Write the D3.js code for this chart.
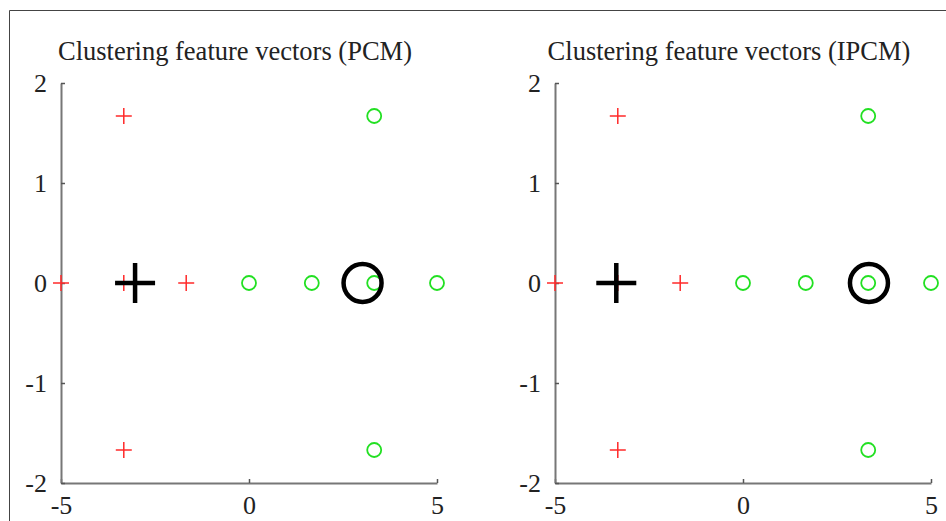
<!DOCTYPE html>
<html lang="en">
<head>
<meta charset="UTF-8">
<title>Clustering feature vectors</title>
<script src="https://d3js.org/d3.v7.min.js"></script>
<style>
  body { margin: 0; background: #fff; }
  text { font-family: "Liberation Serif", "Times New Roman", serif; fill: #222; }
</style>
</head>
<body>
<div id="chart"></div>
<script>
// feature vectors of the two clusters (same in both panels)
var redX = [-5, -3.33, -1.67, -3.33, -3.33];
var redY = [0, 0, 0, 1.67, -1.67];
var greenX = [0, 1.67, 3.33, 5, 3.33, 3.33];
var greenY = [0, 0, 0, 0, 1.67, -1.67];

// panel titles and the cluster centres each method found
var titles = ["Clustering feature vectors (PCM)", "Clustering feature vectors (IPCM)"];
var plusCentreX = [-3.03, -3.37];
var circleCentreX = [3.02, 3.35];
var centreY = [0, 0];

var xTicks = [-5, 0, 5];
var yTicks = [-2, -1, 0, 1, 2];

var W = 946, H = 521;
var serif = "'Liberation Serif', 'Times New Roman', serif";
var svg = d3.select("#chart").append("svg")
  .attr("width", W).attr("height", H);

// outer frame (top and left edges only show)
svg.append("path")
  .attr("d", "M9.5,521 V10.5 H946")
  .attr("fill", "none").attr("stroke", "#444").attr("stroke-width", 1);

var panelLeft = [61, 555];

titles.forEach(function(title, i) {
  var x = d3.scaleLinear().domain([-5, 5]).range([panelLeft[i], panelLeft[i] + 376]);
  var y = d3.scaleLinear().domain([-2, 2]).range([483, 83]);

  svg.append("text")
    .attr("x", (x(-5) + x(5)) / 2 - 14)
    .attr("y", 60)
    .attr("text-anchor", "middle")
    .style("font-family", serif)
    .style("font-size", "26.5px")
    .text(title);

  var gx = svg.append("g")
    .attr("transform", "translate(0," + y(-2) + ")")
    .call(d3.axisBottom(x).tickValues(xTicks).tickSizeInner(-4).tickSizeOuter(0).tickPadding(12));
  var gy = svg.append("g")
    .attr("transform", "translate(" + x(-5) + ",0)")
    .call(d3.axisLeft(y).tickValues(yTicks).tickSizeInner(-4).tickSizeOuter(0).tickPadding(14));

  [gx, gy].forEach(function(g) {
    g.select(".domain").attr("stroke", "#777").attr("stroke-width", 2);
    g.selectAll(".tick line").attr("stroke", "#555").attr("stroke-width", 1.5);
    g.selectAll(".tick text")
      .style("font-family", serif)
      .style("font-size", "26px").attr("fill", "#222")
      .text(function(d) { return d < 0 ? "-" + Math.abs(d) : d; });
  });
  gx.selectAll(".tick text").attr("dy", "0.72em");

  // red plus markers
  var s = 8;
  svg.append("g").selectAll("path")
    .data(d3.range(redX.length))
    .enter().append("path")
    .attr("d", function(k) {
      var cx = x(redX[k]), cy = y(redY[k]);
      return "M" + (cx - s) + "," + cy + "H" + (cx + s) + "M" + cx + "," + (cy - s) + "V" + (cy + s);
    })
    .attr("stroke", "#ff2a2a").attr("stroke-width", 1.5).attr("fill", "none");

  // green circle markers
  svg.append("g").selectAll("circle")
    .data(d3.range(greenX.length))
    .enter().append("circle")
    .attr("cx", function(k) { return x(greenX[k]); })
    .attr("cy", function(k) { return y(greenY[k]); })
    .attr("r", 7)
    .attr("fill", "none").attr("stroke", "#22e022").attr("stroke-width", 1.8);

  // cluster centres
  var S = 20;
  var px = x(plusCentreX[i]), py = y(centreY[i]);
  svg.append("path")
    .attr("d", "M" + (px - S) + "," + py + "H" + (px + S) + "M" + px + "," + (py - S) + "V" + (py + S))
    .attr("stroke", "#000").attr("stroke-width", 4.5).attr("fill", "none");
  svg.append("circle")
    .attr("cx", x(circleCentreX[i])).attr("cy", y(centreY[i]))
    .attr("r", 19)
    .attr("fill", "none").attr("stroke", "#000").attr("stroke-width", 4.5);
});
</script>
</body>
</html>
